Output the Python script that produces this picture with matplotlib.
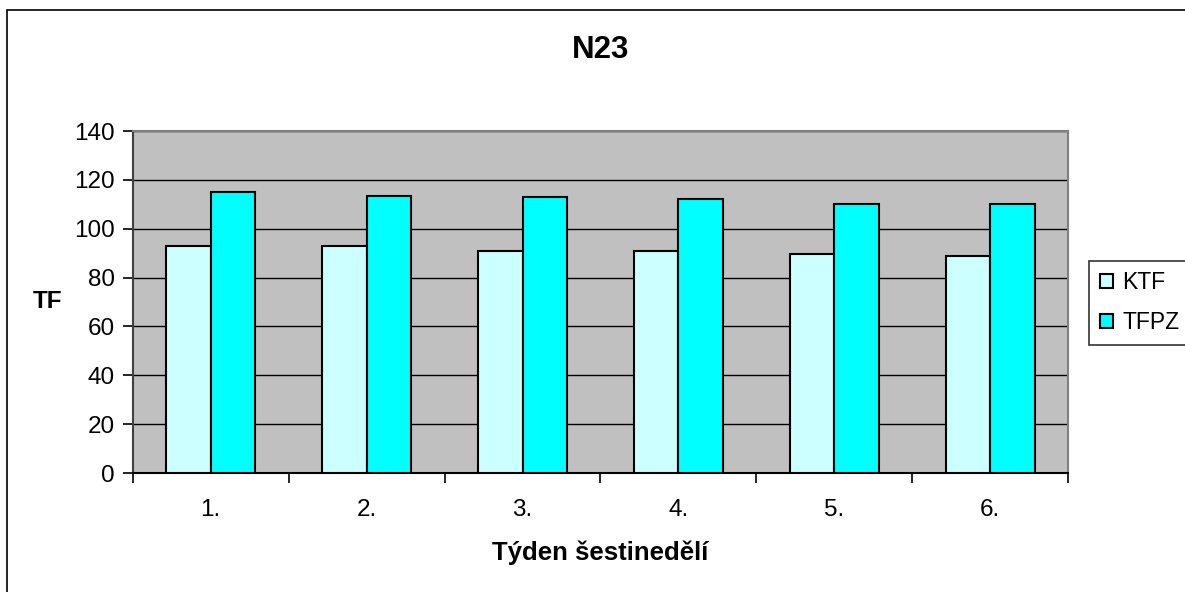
import matplotlib
matplotlib.use("Agg")
import matplotlib.pyplot as plt
import matplotlib.patches as mpatches
import numpy as np

plt.rcParams['font.family'] = ['Liberation Sans', 'DejaVu Sans']

tydny = ["1.", "2.", "3.", "4.", "5.", "6."]
ktf = [93, 93, 91, 91, 89.5, 89]
tfpz = [115, 113.5, 113, 112, 110, 110]

W, H = 1185, 592
fig = plt.figure(figsize=(W / 100, H / 100), dpi=100)

# ramecek kolem celeho grafu (vpravo a dole uriznuty)
fig.patches.append(mpatches.Rectangle((7.3 / W, -0.1), 1.2, 1 - 10 / H + 0.1,
                                      transform=fig.transFigure, fill=False,
                                      edgecolor='black', linewidth=1.2))

ax = fig.add_axes([132.7 / W, 1 - 473 / H, (1068.3 - 132.7) / W, (473 - 131) / H])
ax.set_facecolor('#C0C0C0')

x = np.arange(len(tydny))
w = 1 / 3.5
ax.bar(x - w / 2, ktf, w, color='#CCFFFF', edgecolor='black', linewidth=1.5,
       label='KTF', zorder=3)
ax.bar(x + w / 2, tfpz, w, color='#00FFFF', edgecolor='black', linewidth=1.5,
       label='TFPZ', zorder=3)

ax.set_xlim(-0.5, len(tydny) - 0.5)
ax.set_ylim(0, 140)
ax.set_yticks(range(0, 141, 20))
ax.yaxis.grid(True, color='black', linewidth=1.0, zorder=1)
ax.set_axisbelow(True)

ax.set_xticks(np.arange(-0.5, len(tydny)), minor=False)
ax.set_xticklabels([])
ax.set_xticks(x, minor=True)
ax.set_xticklabels(tydny, minor=True, fontsize=17.5)
ax.tick_params(axis='x', which='major', length=7, width=1.2, direction='out')
ax.tick_params(axis='x', which='minor', length=0, pad=19)
ax.tick_params(axis='y', length=7, width=1.2, labelsize=17.5, pad=6)

for s in ['top', 'right']:
    ax.spines[s].set_color('#808080')
    ax.spines[s].set_linewidth(1.5)
ax.spines['left'].set_color('#404040')
ax.spines['left'].set_linewidth(1.5)
ax.spines['bottom'].set_color('black')
ax.spines['bottom'].set_linewidth(1.5)

fig.text(601 / W, 1 - 50 / H, "N23", ha='center', va='center',
         fontsize=22.5, fontweight='bold')
fig.text(48 / W, 1 - 301 / H, "TF", ha='center', va='center',
         fontsize=17.5, fontweight='bold')
fig.text(600.5 / W, 1 - 553 / H, "Týden šestinedělí", ha='center', va='center',
         fontsize=18.5, fontweight='bold')

leg = fig.legend(loc='upper left', bbox_to_anchor=(1089.3 / W, 1 - 260.7 / H),
                 fontsize=16.5, frameon=True, fancybox=False, edgecolor='black',
                 handlelength=0.6, handleheight=0.6, handletextpad=0.4,
                 borderpad=0.45, labelspacing=0.75, borderaxespad=0)
leg.get_frame().set_linewidth(1.2)

plt.savefig("out.png", dpi=100)
